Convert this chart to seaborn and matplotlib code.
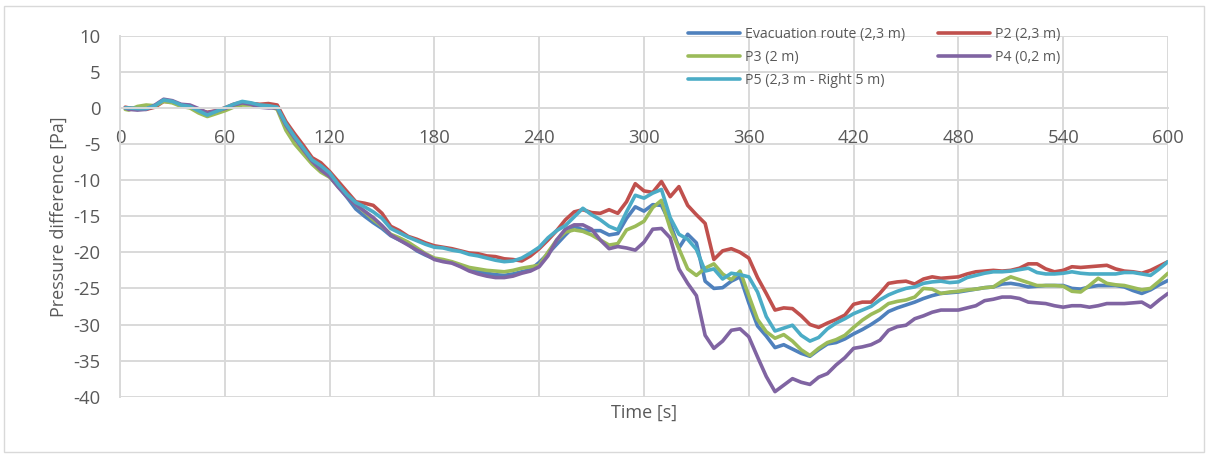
import matplotlib
matplotlib.use("Agg")
import matplotlib.pyplot as plt
from matplotlib.patches import Rectangle
import pandas as pd
import seaborn as sns

sns.set_theme(style="white")
plt.rcParams["font.family"] = ["Open Sans", "DejaVu Sans"]
plt.rcParams["axes.unicode_minus"] = False

# time samples [s]
time_s = [3] + list(range(5, 601, 5))

series_names = [
    "Evacuation route (2,3 m)",
    "P2 (2,3 m)",
    "P3 (2 m)",
    "P4 (0,2 m)",
    "P5 (2,3 m - Right 5 m)",
]
series_colors = ["#4F81BD", "#C0504D", "#9BBB59", "#8064A2", "#4BACC6"]

# pressure difference [Pa]
evac = [
    0.0, -0.1, -0.2, -0.1, 0.2, 1.1, 0.8, 0.4, 0.2, -0.4,
    -0.9, -0.5, -0.1, 0.4, 0.7, 0.6, 0.4, 0.3, 0.1, -2.2,
    -4.0, -5.6, -7.3, -8.4, -9.4, -10.9, -12.4, -14.0, -15.0, -15.9,
    -16.7, -17.7, -18.3, -18.9, -19.8, -20.4, -20.9, -21.2, -21.4, -21.9,
    -22.3, -22.7, -22.9, -23.1, -23.2, -23.0, -22.7, -22.4, -21.4, -20.2,
    -18.9, -17.6, -16.4, -16.9, -17.0, -17.0, -17.6, -17.4, -15.3, -13.7,
    -14.3, -13.4, -13.5, -16.0, -19.4, -17.5, -18.7, -24.0, -25.0, -24.9,
    -24.0, -23.4, -27.0, -30.2, -31.6, -33.2, -32.8, -33.4, -34.0, -34.4,
    -33.5, -32.7, -32.5, -32.0, -31.3, -30.7, -30.0, -29.2, -28.2, -27.7,
    -27.3, -26.9, -26.4, -26.0, -25.7, -25.6, -25.5, -25.3, -25.1, -24.9,
    -24.8, -24.4, -24.3, -24.5, -24.8, -24.7, -24.6, -24.6, -24.6, -25.0,
    -25.1, -24.8, -24.6, -24.6, -24.6, -24.8, -25.3, -25.7, -25.2, -24.5,
    -23.9,
]
p2 = [
    0.1, 0.0, -0.1, -0.2, 0.1, 0.9, 0.8, 0.4, 0.2, -0.3,
    -0.6, -0.4, 0.0, 0.5, 0.8, 0.6, 0.5, 0.6, 0.4, -1.9,
    -3.6, -5.2, -6.9, -7.6, -8.8, -10.2, -11.6, -13.0, -13.2, -13.5,
    -14.6, -16.4, -17.0, -17.8, -18.2, -18.7, -19.1, -19.3, -19.5, -19.8,
    -20.1, -20.2, -20.5, -20.6, -20.9, -21.0, -21.2, -20.5, -19.5, -18.3,
    -17.0, -15.5, -14.4, -14.1, -14.5, -14.6, -14.1, -14.6, -13.0, -10.5,
    -11.5, -11.7, -10.2, -12.3, -10.9, -13.5, -14.8, -16.0, -21.0, -19.8,
    -19.5, -20.0, -20.8, -23.5, -25.7, -28.0, -27.7, -27.8, -28.8, -30.0,
    -30.4, -29.8, -29.3, -28.7, -27.2, -26.9, -26.9, -25.7, -24.3, -24.1,
    -24.0, -24.4, -23.7, -23.4, -23.6, -23.5, -23.4, -23.0, -22.7, -22.6,
    -22.5, -22.6, -22.5, -22.2, -21.6, -21.6, -22.3, -22.7, -22.5, -22.0,
    -22.1, -22.0, -21.9, -21.8, -22.3, -22.6, -22.7, -22.9, -22.5, -21.9,
    -21.3,
]
p3 = [
    -0.2, -0.3, 0.2, 0.4, 0.3, 0.9, 0.7, 0.2, 0.0, -0.7,
    -1.2, -0.8, -0.4, 0.1, 0.4, 0.4, 0.3, 0.3, -0.2, -3.1,
    -5.0, -6.4, -7.8, -8.9, -9.6, -10.9, -12.2, -13.4, -14.4, -15.5,
    -16.4, -17.5, -18.0, -18.6, -19.4, -20.2, -20.8, -21.0, -21.3, -21.7,
    -22.1, -22.3, -22.5, -22.6, -22.7, -22.5, -22.2, -22.0, -21.8, -20.0,
    -18.3, -17.2, -16.9, -17.1, -17.6, -18.3, -19.0, -18.8, -16.9, -16.4,
    -15.7, -13.8, -12.8, -16.7, -19.5, -22.3, -23.2, -22.2, -21.6, -23.0,
    -23.8, -22.6, -26.0, -29.3, -31.0, -31.9, -31.4, -32.3, -33.5, -34.3,
    -33.3, -32.5, -32.1, -31.5, -30.4, -29.4, -28.6, -28.0, -27.1, -26.8,
    -26.6, -26.2, -25.0, -25.1, -25.7, -25.5, -25.4, -25.2, -25.1, -24.9,
    -24.8, -24.0, -23.4, -23.8, -24.2, -24.6, -24.6, -24.6, -24.7, -25.4,
    -25.5, -24.6, -23.6, -24.3, -24.5, -24.6, -24.9, -25.2, -25.0, -24.0,
    -22.9,
]
p4 = [
    0.0, -0.2, -0.3, -0.2, 0.4, 1.2, 1.0, 0.5, 0.4, -0.1,
    -0.7, -0.4, -0.1, 0.4, 0.7, 0.5, 0.1, 0.0, 0.0, -2.4,
    -4.2, -5.8, -7.4, -8.6, -9.5, -11.0, -12.3, -13.4, -14.3, -15.2,
    -16.3, -17.6, -18.3, -19.0, -19.7, -20.3, -21.0, -21.3, -21.5, -22.0,
    -22.6, -23.0, -23.3, -23.5, -23.5, -23.3, -22.9, -22.6, -22.0, -20.5,
    -18.3, -16.8, -16.2, -16.2, -16.8, -18.3, -19.5, -19.2, -19.4, -19.7,
    -18.6, -16.8, -16.7, -18.0, -22.3, -24.3, -26.0, -31.5, -33.3, -32.3,
    -30.8, -30.6, -31.7, -34.5, -37.2, -39.3, -38.4, -37.5, -38.0, -38.3,
    -37.3, -36.8, -35.6, -34.6, -33.3, -33.1, -32.8, -32.2, -30.8, -30.3,
    -30.1, -29.2, -28.8, -28.3, -28.0, -28.0, -28.0, -27.7, -27.4, -26.7,
    -26.5, -26.2, -26.2, -26.4, -26.9, -27.0, -27.1, -27.4, -27.6, -27.4,
    -27.4, -27.6, -27.4, -27.1, -27.1, -27.1, -27.0, -26.9, -27.6, -26.6,
    -25.7,
]
p5 = [
    0.0, 0.0, -0.1, -0.1, 0.3, 1.1, 0.9, 0.4, 0.2, -0.4,
    -1.0, -0.5, 0.0, 0.5, 0.9, 0.7, 0.4, 0.3, 0.1, -2.2,
    -4.0, -5.6, -7.2, -8.0, -9.0, -10.6, -12.0, -13.1, -13.7, -14.4,
    -15.3, -16.7, -17.3, -17.9, -18.4, -18.9, -19.3, -19.4, -19.7, -19.9,
    -20.3, -20.5, -20.8, -21.1, -21.3, -21.2, -20.8, -20.1, -19.3, -18.0,
    -17.0, -16.3, -15.1, -13.9, -14.8, -15.5, -16.4, -16.9, -14.4, -12.1,
    -12.5, -11.8, -11.3, -15.2, -17.5, -18.2, -19.6, -22.6, -22.3, -23.7,
    -22.9, -23.1, -23.4, -25.5, -28.9, -30.9, -30.5, -30.1, -31.5, -32.3,
    -31.8, -30.6, -29.8, -29.2, -28.5, -28.0, -27.5, -26.6, -25.9, -25.4,
    -25.0, -24.8, -24.3, -24.1, -24.0, -24.2, -24.1, -23.5, -23.2, -22.9,
    -22.7, -22.7, -22.6, -22.4, -22.2, -22.8, -23.0, -23.0, -22.9, -22.7,
    -22.9, -23.0, -23.0, -23.0, -23.0, -22.8, -22.8, -23.0, -23.2, -22.3,
    -21.3,
]

wide = pd.DataFrame({"Time": time_s})
for name, vals in zip(series_names, [evac, p2, p3, p4, p5]):
    wide[name] = vals
long = wide.melt(id_vars="Time", var_name="Series", value_name="Pressure")

fig = plt.figure(figsize=(12.08, 4.57), dpi=100)
ax = fig.add_axes([120 / 1208, 1 - 396.7 / 457, 1048 / 1208, 361 / 457])

sns.lineplot(data=long, x="Time", y="Pressure", hue="Series",
             hue_order=series_names, palette=series_colors,
             linewidth=2.6, ax=ax)

grid_col = "#d9d9d9"
text_col = "#595959"
ax.set_xlim(0, 600)
ax.set_ylim(-40, 10)
ax.set_xticks(range(0, 601, 60))
ax.set_yticks(range(-40, 11, 5))
ax.set_axisbelow(True)
ax.grid(True, color=grid_col, linewidth=1.4)
for s in ["top", "right"]:
    ax.spines[s].set_visible(False)
# Excel-style: horizontal axis crosses at 0
ax.spines["bottom"].set_position(("data", 0))
ax.spines["bottom"].set_color(grid_col)
ax.spines["bottom"].set_linewidth(1.4)
ax.spines["left"].set_color(grid_col)
ax.spines["left"].set_linewidth(1.4)
ax.tick_params(axis="x", length=0, pad=15, labelsize=13.3, labelcolor=text_col)
ax.tick_params(axis="y", length=0, pad=14, labelsize=13.3, labelcolor=text_col)

ax.set_xlabel("")
ax.set_ylabel("Pressure difference [Pa]", fontsize=13, color=text_col, labelpad=4)
fig.text(644 / 1208, 1 - 413 / 457, "Time [s]", ha="center", va="center",
         fontsize=13, color=text_col)

# legend filled row by row: 3 rows x 2 columns
handles, labels = ax.get_legend_handles_labels()
order = [0, 2, 4, 1, 3]
ax.legend([handles[i] for i in order], [labels[i] for i in order],
          ncol=2, frameon=False, loc="upper left",
          bbox_to_anchor=((688 - 120) / 1048, (396.7 - 27) / 361),
          borderpad=0, borderaxespad=0, fontsize=10.2, labelcolor=text_col,
          handlelength=3.7, handletextpad=0.35, columnspacing=2.3,
          labelspacing=0.55)

# chart border
fig.patches.append(Rectangle((4 / 1208, 5 / 457), 1200 / 1208, 446 / 457,
                             transform=fig.transFigure, fill=False,
                             edgecolor=grid_col, linewidth=1.0))

fig.savefig("out.png", dpi=100)
